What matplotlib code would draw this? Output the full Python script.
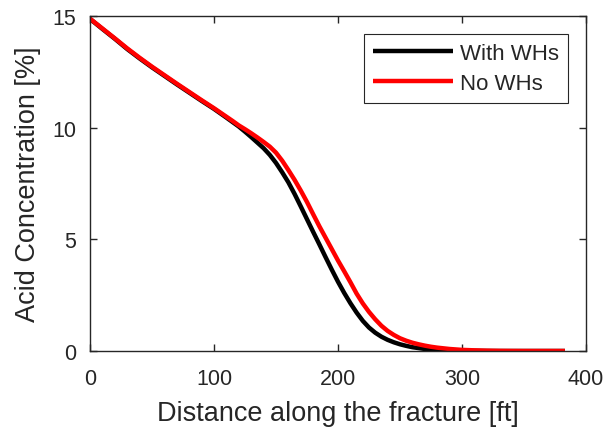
import numpy as np
import matplotlib
matplotlib.use('Agg')
import matplotlib.pyplot as plt

# data (distance in ft, concentration in %)
dist = ([0, 10, 20, 30, 40, 50, 60, 70, 80, 90, 100]
        + list(range(110, 281, 5))
        + [290, 300, 310, 320, 330, 340, 350, 360, 370, 380, 383])

with_wh = [14.87, 14.42, 13.98, 13.52, 13.1, 12.7, 12.32, 11.94, 11.57, 11.2, 10.84,
           10.45, 10.25, 10.05, 9.82, 9.58, 9.33, 9.08, 8.78, 8.42, 8.0,
           7.55, 7.03, 6.47, 5.9, 5.33, 4.77, 4.2, 3.64, 3.1, 2.6,
           2.14, 1.72, 1.35, 1.05, 0.82, 0.64, 0.5, 0.39, 0.3, 0.23,
           0.17, 0.13, 0.09, 0.065, 0.045,
           0.025, 0.012, 0.005, 0.002, 0.0, 0.0, 0.0, 0.0, 0.0, 0.0, 0.0]

no_wh = [14.88, 14.44, 14.0, 13.55, 13.13, 12.73, 12.35, 11.97, 11.6, 11.23, 10.87,
         10.49, 10.3, 10.1, 9.93, 9.75, 9.56, 9.36, 9.15, 8.88, 8.52,
         8.1, 7.66, 7.18, 6.67, 6.12, 5.58, 5.07, 4.56, 4.05, 3.57,
         3.08, 2.57, 2.13, 1.75, 1.42, 1.13, 0.9, 0.72, 0.57, 0.46,
         0.37, 0.3, 0.24, 0.19, 0.15,
         0.09, 0.05, 0.03, 0.015, 0.006, 0.002, 0.0, 0.0, 0.0, 0.0, 0.0]

plt.rcParams['font.family'] = ['Liberation Sans', 'DejaVu Sans']
txt = '#262626'

fig = plt.figure(figsize=(6.10, 4.31), dpi=100)
ax = fig.add_axes([0.1475, 0.1833, 0.8132, 0.7773])

ax.plot(dist, with_wh, color='black', lw=3.2, label='With WHs', solid_capstyle='butt')
ax.plot(dist, no_wh, color='red', lw=3.2, label='No WHs', solid_capstyle='butt')

ax.set_xlim(0, 400)
ax.set_ylim(0, 15)
ax.set_xticks([0, 100, 200, 300, 400])
ax.set_yticks([0, 5, 10, 15])
ax.tick_params(direction='in', top=True, right=True, length=5, width=1.0,
               color=txt, labelcolor=txt, labelsize=15.5)
ax.tick_params(axis='x', pad=12.5)
ax.tick_params(axis='y', pad=10)
for s in ax.spines.values():
    s.set_color(txt)
    s.set_linewidth(1.0)

ax.set_xlabel('Distance along the fracture [ft]', fontsize=19.5, color=txt, labelpad=8)
ax.set_ylabel('Acid Concentration [%]', fontsize=19.5, color=txt, labelpad=8)

leg = ax.legend(loc='upper right', fontsize=16, handlelength=3.6,
                borderaxespad=0.8, fancybox=False, framealpha=1,
                handletextpad=0.3, borderpad=0.42, labelspacing=0.4)
leg.get_frame().set_edgecolor(txt)
leg.get_frame().set_linewidth(0.8)
for t in leg.get_texts():
    t.set_color(txt)

fig.savefig('out.png', dpi=100)
